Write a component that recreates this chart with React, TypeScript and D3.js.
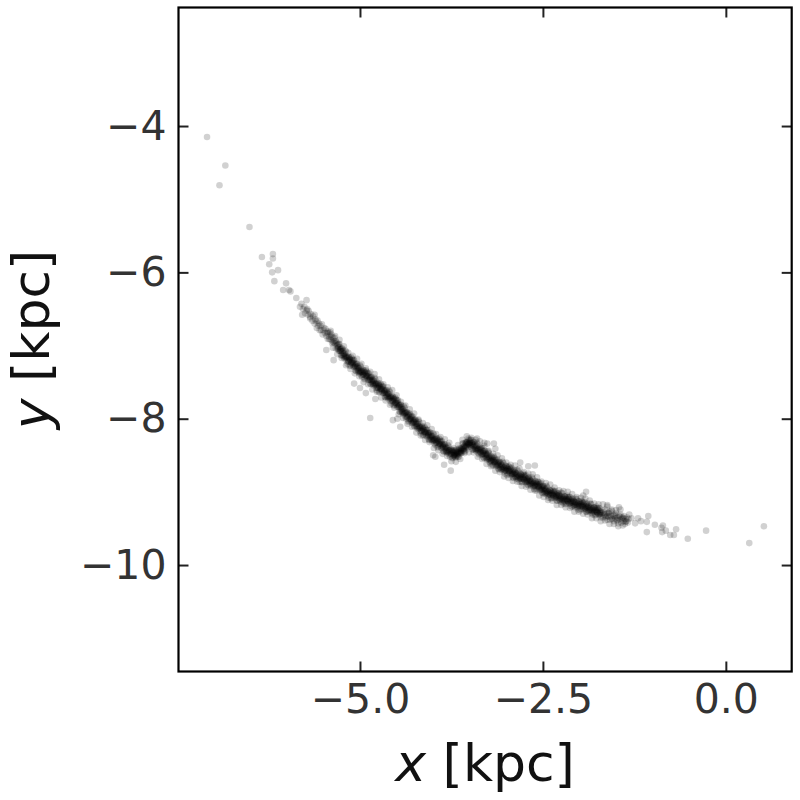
import React, { useRef, useEffect } from "react";
import * as d3 from "d3";

const width = 800;
const height = 800;
const plot = { left: 178.5, right: 791.7, top: 7.5, bottom: 671.5 };

const xDomain = [-7.48, 0.9];
const yDomain = [-11.455, -2.38];
const xTicks = [-5, -2.5, 0];
const yTicks = [-4, -6, -8, -10];

// star positions [x kpc, y kpc]
const leadingTail = [
  [-7.09, -4.15], [-6.84, -4.54], [-6.92, -4.81], [-6.51, -5.38], [-6.34, -5.79], [-6.19, -5.75],
  [-6.19, -5.81], [-6.24, -5.89], [-6.12, -5.97], [-6.2, -6.0], [-6.17, -6.12], [-6.01, -6.15],
  [-6.05, -6.24], [-5.97, -6.24], [-5.95, -6.26], [-5.87, -6.35], [-5.73, -6.38], [-5.82, -6.47],
  [-5.72, -6.5], [-5.79, -6.58], [-5.68, -6.61], [-5.62, -6.58]
];

const upperArm = [
  [-5.8, -6.43], [-5.78, -6.5], [-5.76, -6.47], [-5.75, -6.56], [-5.73, -6.52], [-5.71, -6.58],
  [-5.7, -6.53], [-5.68, -6.63], [-5.67, -6.57], [-5.65, -6.66], [-5.64, -6.6], [-5.62, -6.7],
  [-5.61, -6.64], [-5.6, -6.67],
  [-5.59, -6.76], [-5.58, -6.66], [-5.57, -6.73], [-5.56, -6.7], [-5.55, -6.79], [-5.54, -6.73],
  [-5.53, -6.79], [-5.52, -6.71], [-5.51, -6.85], [-5.5, -6.79], [-5.49, -6.76], [-5.48, -6.83],
  [-5.47, -6.77], [-5.46, -6.87], [-5.45, -6.83], [-5.44, -6.91], [-5.43, -6.83], [-5.42, -6.88],
  [-5.41, -6.82], [-5.4, -6.92], [-5.39, -6.88], [-5.38, -6.97], [-5.37, -6.89], [-5.36, -6.96],
  [-5.35, -6.89], [-5.34, -6.97], [-5.33, -7.04], [-5.32, -6.96], [-5.31, -7.04],
  [-5.44, -6.81], [-5.42, -6.91], [-5.39, -6.85], [-5.37, -6.95], [-5.35, -6.94], [-5.33, -6.94],
  [-5.31, -7.0]
];

const streamCore = [
  [-5.3, -6.99], [-5.3, -7.04], [-5.29, -7.07], [-5.29, -6.98], [-5.28, -6.98], [-5.28, -7.07], [-5.27, -7.07], [-5.27, -7.05], [-5.26, -7.05], [-5.26, -7.13],
  [-5.25, -7.14], [-5.25, -7.04], [-5.24, -7.04], [-5.24, -7.1], [-5.23, -7.13], [-5.23, -7.07], [-5.22, -7.11], [-5.22, -7.16], [-5.21, -7.18], [-5.21, -7.11],
  [-5.2, -7.07], [-5.2, -7.16], [-5.19, -7.17], [-5.19, -7.09], [-5.18, -7.16], [-5.18, -7.21], [-5.17, -7.25], [-5.17, -7.17], [-5.16, -7.15], [-5.16, -7.22],
  [-5.15, -7.22], [-5.15, -7.16], [-5.14, -7.18], [-5.14, -7.28], [-5.13, -7.27], [-5.13, -7.2], [-5.12, -7.16], [-5.12, -7.23], [-5.11, -7.23], [-5.11, -7.18],
  [-5.1, -7.21], [-5.1, -7.26], [-5.09, -7.29], [-5.09, -7.2], [-5.08, -7.2], [-5.08, -7.29], [-5.07, -7.28], [-5.07, -7.26], [-5.06, -7.26], [-5.06, -7.34],
  [-5.05, -7.35], [-5.05, -7.25], [-5.04, -7.25], [-5.04, -7.31], [-5.03, -7.34], [-5.03, -7.28], [-5.02, -7.31], [-5.02, -7.36], [-5.01, -7.38], [-5.01, -7.31],
  [-5.0, -7.27], [-5.0, -7.36], [-4.99, -7.37], [-4.99, -7.29], [-4.98, -7.36], [-4.98, -7.41], [-4.97, -7.43], [-4.97, -7.35], [-4.96, -7.33], [-4.96, -7.4],
  [-4.95, -7.4], [-4.95, -7.34], [-4.94, -7.36], [-4.94, -7.46], [-4.93, -7.45], [-4.93, -7.38], [-4.92, -7.34], [-4.92, -7.41], [-4.91, -7.41], [-4.91, -7.36],
  [-4.9, -7.39], [-4.9, -7.44], [-4.89, -7.47], [-4.89, -7.38], [-4.88, -7.38], [-4.88, -7.47], [-4.87, -7.46], [-4.87, -7.44], [-4.86, -7.44], [-4.86, -7.52],
  [-4.85, -7.53], [-4.85, -7.43], [-4.84, -7.43], [-4.84, -7.49], [-4.83, -7.52], [-4.83, -7.46], [-4.82, -7.48], [-4.82, -7.53], [-4.81, -7.55], [-4.81, -7.48],
  [-4.8, -7.44], [-4.8, -7.53], [-4.79, -7.54], [-4.79, -7.46], [-4.78, -7.53], [-4.78, -7.58], [-4.77, -7.61], [-4.77, -7.53], [-4.76, -7.51], [-4.76, -7.58],
  [-4.75, -7.58], [-4.75, -7.52], [-4.74, -7.54], [-4.74, -7.64], [-4.73, -7.63], [-4.73, -7.56], [-4.72, -7.52], [-4.72, -7.59], [-4.71, -7.59], [-4.71, -7.54],
  [-4.7, -7.57], [-4.7, -7.62], [-4.69, -7.65], [-4.69, -7.56], [-4.68, -7.56], [-4.68, -7.65], [-4.67, -7.64], [-4.67, -7.62], [-4.66, -7.62], [-4.66, -7.7],
  [-4.65, -7.71], [-4.65, -7.61], [-4.64, -7.61], [-4.64, -7.67], [-4.63, -7.7], [-4.63, -7.64], [-4.62, -7.66], [-4.62, -7.71], [-4.61, -7.73], [-4.61, -7.66],
  [-4.6, -7.62], [-4.6, -7.71], [-4.59, -7.72], [-4.59, -7.64], [-4.58, -7.71], [-4.58, -7.76], [-4.57, -7.79], [-4.57, -7.71], [-4.56, -7.69], [-4.56, -7.76],
  [-4.55, -7.76], [-4.55, -7.7], [-4.54, -7.72], [-4.54, -7.82], [-4.53, -7.81], [-4.53, -7.74], [-4.52, -7.71], [-4.52, -7.78], [-4.51, -7.78], [-4.51, -7.73],
  [-4.5, -7.76], [-4.5, -7.81], [-4.49, -7.84], [-4.49, -7.75], [-4.48, -7.75], [-4.48, -7.84], [-4.47, -7.83], [-4.47, -7.81], [-4.46, -7.82], [-4.46, -7.9],
  [-4.45, -7.91], [-4.45, -7.81], [-4.44, -7.81], [-4.44, -7.87], [-4.43, -7.9], [-4.43, -7.84], [-4.42, -7.87], [-4.42, -7.92], [-4.41, -7.94], [-4.41, -7.87],
  [-4.4, -7.83], [-4.4, -7.92], [-4.39, -7.93], [-4.39, -7.85], [-4.38, -7.92], [-4.38, -7.97], [-4.37, -8.0], [-4.37, -7.92], [-4.36, -7.91], [-4.36, -7.98],
  [-4.35, -7.98], [-4.35, -7.92], [-4.34, -7.94], [-4.34, -8.04], [-4.33, -8.03], [-4.33, -7.96], [-4.32, -7.93], [-4.32, -8.0], [-4.31, -8.0], [-4.31, -7.95],
  [-4.3, -7.98], [-4.3, -8.03], [-4.29, -8.06], [-4.29, -7.97], [-4.28, -7.97], [-4.28, -8.06], [-4.27, -8.05], [-4.27, -8.03], [-4.26, -8.02], [-4.26, -8.1],
  [-4.25, -8.11], [-4.25, -8.01], [-4.24, -8.01], [-4.24, -8.07], [-4.23, -8.1], [-4.23, -8.04], [-4.22, -8.07], [-4.22, -8.12], [-4.21, -8.14], [-4.21, -8.07],
  [-4.2, -8.03], [-4.2, -8.12], [-4.19, -8.13], [-4.19, -8.05], [-4.18, -8.12], [-4.18, -8.17], [-4.17, -8.2], [-4.17, -8.12], [-4.16, -8.1], [-4.16, -8.17],
  [-4.15, -8.17], [-4.15, -8.11], [-4.14, -8.13], [-4.14, -8.23], [-4.13, -8.22], [-4.13, -8.15], [-4.12, -8.11], [-4.12, -8.18], [-4.11, -8.18], [-4.11, -8.13],
  [-4.1, -8.16], [-4.1, -8.21], [-4.09, -8.24], [-4.09, -8.15], [-4.08, -8.15], [-4.08, -8.24], [-4.07, -8.22], [-4.07, -8.2], [-4.06, -8.2], [-4.06, -8.28],
  [-4.05, -8.29], [-4.05, -8.19], [-4.04, -8.19], [-4.04, -8.25], [-4.03, -8.28], [-4.03, -8.22], [-4.02, -8.24], [-4.02, -8.29], [-4.01, -8.31], [-4.01, -8.24],
  [-4.0, -8.2], [-4.0, -8.29], [-3.99, -8.3], [-3.99, -8.22], [-3.98, -8.29], [-3.98, -8.34], [-3.97, -8.36], [-3.97, -8.28], [-3.96, -8.26], [-3.96, -8.33],
  [-3.95, -8.33], [-3.95, -8.27], [-3.94, -8.29], [-3.94, -8.39], [-3.93, -8.38], [-3.93, -8.31], [-3.92, -8.27], [-3.92, -8.34], [-3.91, -8.34], [-3.91, -8.29],
  [-3.9, -8.32], [-3.9, -8.37], [-3.89, -8.4], [-3.89, -8.31], [-3.88, -8.31], [-3.88, -8.4], [-3.87, -8.38], [-3.87, -8.36], [-3.86, -8.36], [-3.86, -8.44],
  [-3.85, -8.45], [-3.85, -8.35], [-3.84, -8.35], [-3.84, -8.41], [-3.83, -8.44], [-3.83, -8.38], [-3.82, -8.4], [-3.82, -8.45], [-3.81, -8.47], [-3.81, -8.4],
  [-3.8, -8.36], [-3.8, -8.45], [-3.79, -8.46], [-3.79, -8.38], [-3.78, -8.44], [-3.78, -8.49], [-3.77, -8.52], [-3.77, -8.44], [-3.76, -8.42], [-3.76, -8.49]
];

const kinkPoints = [
  [-3.75, -8.48], [-3.75, -8.42], [-3.74, -8.44], [-3.74, -8.54], [-3.73, -8.53], [-3.73, -8.46], [-3.72, -8.43], [-3.72, -8.5], [-3.71, -8.49], [-3.71, -8.44],
  [-3.7, -8.47], [-3.7, -8.52], [-3.69, -8.53], [-3.69, -8.44], [-3.68, -8.42], [-3.68, -8.51], [-3.67, -8.48], [-3.67, -8.46], [-3.66, -8.44], [-3.66, -8.52],
  [-3.65, -8.52], [-3.65, -8.42], [-3.64, -8.4], [-3.64, -8.46], [-3.63, -8.47], [-3.63, -8.41], [-3.62, -8.42], [-3.62, -8.47], [-3.61, -8.47], [-3.61, -8.4],
  [-3.6, -8.34], [-3.6, -8.43], [-3.59, -8.42], [-3.59, -8.34], [-3.58, -8.39], [-3.58, -8.44], [-3.57, -8.45], [-3.57, -8.37], [-3.56, -8.33], [-3.56, -8.4],
  [-3.55, -8.38], [-3.55, -8.32], [-3.54, -8.32], [-3.54, -8.42], [-3.53, -8.39], [-3.53, -8.32], [-3.52, -8.27], [-3.52, -8.34], [-3.51, -8.34], [-3.51, -8.29],
  [-3.5, -8.31], [-3.5, -8.36], [-3.49, -8.38], [-3.49, -8.29], [-3.48, -8.29], [-3.48, -8.38], [-3.47, -8.36], [-3.47, -8.34], [-3.46, -8.34], [-3.46, -8.42],
  [-3.45, -8.42], [-3.45, -8.32], [-3.44, -8.32], [-3.44, -8.38], [-3.43, -8.41], [-3.43, -8.35], [-3.42, -8.38], [-3.42, -8.43], [-3.41, -8.44], [-3.41, -8.37],
  [-3.4, -8.33], [-3.4, -8.42], [-3.39, -8.43], [-3.39, -8.35], [-3.38, -8.42], [-3.38, -8.47], [-3.37, -8.49], [-3.37, -8.41], [-3.36, -8.39], [-3.36, -8.46],
  [-3.71, -8.5], [-3.69, -8.48], [-3.67, -8.5], [-3.72, -8.46], [-3.55, -8.35], [-3.53, -8.36], [-3.5, -8.33], [-3.58, -8.41],
  [-3.62, -8.44], [-3.65, -8.48]
];

const streamLower = [
  [-3.35, -8.41], [-3.35, -8.46], [-3.34, -8.49], [-3.34, -8.4], [-3.33, -8.4], [-3.33, -8.49], [-3.32, -8.47], [-3.32, -8.45], [-3.31, -8.45], [-3.31, -8.53],
  [-3.3, -8.54], [-3.3, -8.44], [-3.29, -8.44], [-3.29, -8.5], [-3.28, -8.53], [-3.28, -8.47], [-3.27, -8.49], [-3.27, -8.54], [-3.26, -8.56], [-3.26, -8.49],
  [-3.25, -8.45], [-3.25, -8.54], [-3.24, -8.55], [-3.24, -8.47], [-3.23, -8.54], [-3.23, -8.59], [-3.22, -8.61], [-3.22, -8.53], [-3.21, -8.51], [-3.21, -8.58],
  [-3.2, -8.58], [-3.2, -8.52], [-3.19, -8.54], [-3.19, -8.64], [-3.18, -8.63], [-3.18, -8.56], [-3.17, -8.52], [-3.17, -8.59], [-3.16, -8.59], [-3.16, -8.54],
  [-3.15, -8.57], [-3.15, -8.62], [-3.14, -8.65], [-3.14, -8.56], [-3.13, -8.55], [-3.13, -8.64], [-3.12, -8.63], [-3.12, -8.61], [-3.11, -8.6], [-3.11, -8.68],
  [-3.1, -8.69], [-3.1, -8.59], [-3.09, -8.59], [-3.09, -8.65], [-3.08, -8.67], [-3.08, -8.61], [-3.07, -8.64], [-3.07, -8.69], [-3.06, -8.7], [-3.06, -8.63],
  [-3.05, -8.59], [-3.05, -8.68], [-3.04, -8.69], [-3.04, -8.61], [-3.03, -8.67], [-3.03, -8.72], [-3.02, -8.75], [-3.02, -8.67], [-3.01, -8.64], [-3.01, -8.71],
  [-3.0, -8.71], [-3.0, -8.65], [-2.99, -8.67], [-2.99, -8.77], [-2.98, -8.75], [-2.98, -8.68], [-2.97, -8.65], [-2.97, -8.72], [-2.96, -8.71], [-2.96, -8.66],
  [-2.95, -8.69], [-2.95, -8.74], [-2.94, -8.77], [-2.94, -8.68], [-2.93, -8.67], [-2.93, -8.76], [-2.92, -8.75], [-2.92, -8.73], [-2.91, -8.72], [-2.91, -8.8],
  [-2.9, -8.81], [-2.9, -8.71], [-2.89, -8.7], [-2.89, -8.76], [-2.88, -8.79], [-2.88, -8.73], [-2.87, -8.75], [-2.87, -8.8], [-2.86, -8.82], [-2.86, -8.75],
  [-2.85, -8.7], [-2.85, -8.79], [-2.84, -8.8], [-2.84, -8.72], [-2.83, -8.78], [-2.83, -8.83], [-2.82, -8.86], [-2.82, -8.78], [-2.81, -8.75], [-2.81, -8.82],
  [-2.8, -8.82], [-2.8, -8.76], [-2.79, -8.77], [-2.79, -8.87], [-2.78, -8.86], [-2.78, -8.79], [-2.77, -8.75], [-2.77, -8.82], [-2.76, -8.82], [-2.76, -8.77],
  [-2.75, -8.79], [-2.75, -8.84], [-2.74, -8.87], [-2.74, -8.78], [-2.73, -8.77], [-2.73, -8.86], [-2.72, -8.85], [-2.72, -8.83], [-2.71, -8.82], [-2.71, -8.9],
  [-2.7, -8.91], [-2.7, -8.81], [-2.69, -8.8], [-2.69, -8.86], [-2.68, -8.89], [-2.68, -8.83], [-2.67, -8.85], [-2.67, -8.9], [-2.66, -8.92], [-2.66, -8.85],
  [-2.65, -8.8], [-2.65, -8.89], [-2.64, -8.9], [-2.64, -8.82], [-2.63, -8.88], [-2.63, -8.93], [-2.62, -8.96], [-2.62, -8.88], [-2.61, -8.85], [-2.61, -8.92],
  [-2.6, -8.92], [-2.6, -8.86], [-2.59, -8.88], [-2.59, -8.98], [-2.58, -8.96], [-2.58, -8.89], [-2.57, -8.86], [-2.57, -8.93], [-2.56, -8.92], [-2.56, -8.87],
  [-2.55, -8.9], [-2.55, -8.95], [-2.54, -8.98], [-2.54, -8.89], [-2.53, -8.88], [-2.53, -8.97], [-2.52, -8.96], [-2.52, -8.94], [-2.51, -8.93], [-2.51, -9.01],
  [-2.5, -9.02], [-2.5, -8.92], [-2.49, -8.92], [-2.49, -8.98], [-2.48, -9.0], [-2.48, -8.94], [-2.47, -8.97], [-2.47, -9.02], [-2.46, -9.03], [-2.46, -8.96],
  [-2.45, -8.92], [-2.45, -9.01], [-2.44, -9.02], [-2.44, -8.94], [-2.43, -9.0], [-2.43, -9.05], [-2.42, -9.08], [-2.42, -9.0], [-2.41, -8.97], [-2.41, -9.04],
  [-2.4, -9.04], [-2.4, -8.98], [-2.39, -8.99], [-2.39, -9.09], [-2.38, -9.08], [-2.38, -9.01], [-2.37, -8.97], [-2.37, -9.04], [-2.36, -9.04], [-2.36, -8.99],
  [-2.35, -9.01], [-2.35, -9.06], [-2.34, -9.09], [-2.34, -9.0], [-2.33, -8.99], [-2.33, -9.08], [-2.32, -9.06], [-2.32, -9.04], [-2.31, -9.04], [-2.31, -9.12],
  [-2.3, -9.12], [-2.3, -9.02], [-2.29, -9.02], [-2.29, -9.08], [-2.28, -9.1], [-2.28, -9.04], [-2.27, -9.06], [-2.27, -9.11], [-2.26, -9.13], [-2.26, -9.06],
  [-2.25, -9.01], [-2.25, -9.1], [-2.24, -9.1], [-2.24, -9.02], [-2.23, -9.09], [-2.23, -9.14], [-2.22, -9.16], [-2.22, -9.08], [-2.21, -9.06], [-2.21, -9.13],
  [-2.2, -9.12], [-2.2, -9.06], [-2.19, -9.07], [-2.19, -9.17], [-2.18, -9.16], [-2.18, -9.09], [-2.17, -9.05], [-2.17, -9.12], [-2.16, -9.12], [-2.16, -9.07],
  [-2.15, -9.09], [-2.15, -9.14], [-2.14, -9.16], [-2.14, -9.07], [-2.13, -9.07], [-2.13, -9.16], [-2.12, -9.14], [-2.12, -9.12], [-2.11, -9.12], [-2.11, -9.2],
  [-2.1, -9.2], [-2.1, -9.1], [-2.09, -9.09], [-2.09, -9.15], [-2.08, -9.18], [-2.08, -9.12], [-2.07, -9.14], [-2.07, -9.19], [-2.06, -9.21], [-2.06, -9.14],
  [-2.05, -9.09], [-2.05, -9.18], [-2.04, -9.18], [-2.04, -9.1], [-2.03, -9.16], [-2.03, -9.21], [-2.02, -9.24], [-2.02, -9.16], [-2.01, -9.13], [-2.01, -9.2],
  [-2.0, -9.19], [-2.0, -9.13], [-1.99, -9.15], [-1.99, -9.25], [-1.98, -9.23], [-1.98, -9.16], [-1.97, -9.13], [-1.97, -9.2], [-1.96, -9.19], [-1.96, -9.14],
  [-1.95, -9.16], [-1.95, -9.21], [-1.94, -9.24], [-1.94, -9.15], [-1.93, -9.14], [-1.93, -9.23], [-1.92, -9.22], [-1.92, -9.2], [-1.91, -9.19], [-1.91, -9.27]
];

// stars lying right on the track, where the stream is densest
const trackCentre = [
  [-5.3, -7.02], [-5.28, -7.02], [-5.26, -7.08], [-5.24, -7.08], [-5.22, -7.14], [-5.2, -7.14], [-5.18, -7.15], [-5.16, -7.2], [-5.14, -7.19], [-5.12, -7.24],
  [-5.1, -7.24], [-5.08, -7.24], [-5.06, -7.29], [-5.04, -7.29], [-5.02, -7.34], [-5.0, -7.34], [-4.98, -7.35], [-4.96, -7.38], [-4.94, -7.37], [-4.92, -7.42],
  [-4.9, -7.42], [-4.88, -7.42], [-4.86, -7.47], [-4.84, -7.47], [-4.82, -7.51], [-4.8, -7.51], [-4.78, -7.52], [-4.76, -7.56], [-4.74, -7.55], [-4.72, -7.6],
  [-4.7, -7.6], [-4.68, -7.6], [-4.66, -7.65], [-4.64, -7.65], [-4.62, -7.69], [-4.6, -7.69], [-4.58, -7.7], [-4.56, -7.74], [-4.54, -7.73], [-4.52, -7.79],
  [-4.5, -7.79], [-4.48, -7.79], [-4.46, -7.85], [-4.44, -7.85], [-4.42, -7.9], [-4.4, -7.9], [-4.38, -7.91], [-4.36, -7.96], [-4.34, -7.95], [-4.32, -8.01],
  [-4.3, -8.01], [-4.28, -8.01], [-4.26, -8.05], [-4.24, -8.05], [-4.22, -8.1], [-4.2, -8.1], [-4.18, -8.11], [-4.16, -8.15], [-4.14, -8.14], [-4.12, -8.19],
  [-4.1, -8.19], [-4.08, -8.19], [-4.06, -8.23], [-4.04, -8.23], [-4.02, -8.27], [-4.0, -8.27], [-3.98, -8.28], [-3.96, -8.31], [-3.94, -8.3], [-3.92, -8.35],
  [-3.9, -8.35], [-3.88, -8.35], [-3.86, -8.39], [-3.84, -8.39], [-3.82, -8.43], [-3.8, -8.43], [-3.78, -8.43], [-3.76, -8.47], [-3.74, -8.45], [-3.72, -8.51],
  [-3.7, -8.5], [-3.68, -8.46], [-3.66, -8.47], [-3.64, -8.44], [-3.62, -8.45], [-3.6, -8.41], [-3.58, -8.38], [-3.56, -8.38], [-3.54, -8.33], [-3.52, -8.35],
  [-3.5, -8.34], [-3.48, -8.33], [-3.46, -8.37], [-3.44, -8.36], [-3.42, -8.41], [-3.4, -8.4], [-3.38, -8.41], [-3.36, -8.44], [-3.34, -8.43], [-3.32, -8.48],
  [-3.3, -8.48], [-3.28, -8.48], [-3.26, -8.52], [-3.24, -8.52], [-3.22, -8.56], [-3.2, -8.56], [-3.18, -8.57], [-3.16, -8.6], [-3.14, -8.59], [-3.12, -8.64],
  [-3.1, -8.63], [-3.08, -8.62], [-3.06, -8.66], [-3.04, -8.66], [-3.02, -8.7], [-3.0, -8.69], [-2.98, -8.69], [-2.96, -8.72], [-2.94, -8.71], [-2.92, -8.76],
  [-2.9, -8.75], [-2.88, -8.74], [-2.86, -8.78], [-2.84, -8.77], [-2.82, -8.81], [-2.8, -8.8], [-2.78, -8.8], [-2.76, -8.83], [-2.74, -8.81], [-2.72, -8.86],
  [-2.7, -8.85], [-2.68, -8.84], [-2.66, -8.88], [-2.64, -8.87], [-2.62, -8.91], [-2.6, -8.9], [-2.58, -8.9], [-2.56, -8.93], [-2.54, -8.92], [-2.52, -8.97],
  [-2.5, -8.96], [-2.48, -8.95], [-2.46, -8.99], [-2.44, -8.99], [-2.42, -9.03], [-2.4, -9.02], [-2.38, -9.02], [-2.36, -9.05], [-2.34, -9.03], [-2.32, -9.07],
  [-2.3, -9.06], [-2.28, -9.05], [-2.26, -9.09], [-2.24, -9.07], [-2.22, -9.11], [-2.2, -9.1], [-2.18, -9.1], [-2.16, -9.13], [-2.14, -9.1], [-2.12, -9.15],
  [-2.1, -9.14], [-2.08, -9.13], [-2.06, -9.17], [-2.04, -9.15], [-2.02, -9.19], [-2.0, -9.17], [-1.98, -9.17], [-1.96, -9.2], [-1.94, -9.18], [-1.92, -9.23],
  [-1.9, -9.21], [-1.88, -9.2], [-1.86, -9.24], [-1.84, -9.22], [-1.82, -9.26], [-1.8, -9.25], [-1.78, -9.25], [-1.76, -9.28], [-1.74, -9.25], [-1.72, -9.3],
  [-1.7, -9.29]
];

// looser stars on both flanks of the stream
const streamHalo = [
  [-5.4, -6.8], [-5.37, -7.03], [-5.34, -6.87], [-5.31, -7.12], [-5.28, -6.92], [-5.25, -7.17], [-5.22, -7.01], [-5.19, -7.27],
  [-5.16, -7.1], [-5.13, -7.32], [-5.1, -7.14], [-5.07, -7.38], [-5.04, -7.18], [-5.01, -7.42], [-4.98, -7.25], [-4.95, -7.5],
  [-4.92, -7.31], [-4.89, -7.53], [-4.86, -7.36], [-4.83, -7.6], [-4.8, -7.39], [-4.77, -7.63], [-4.74, -7.46], [-4.71, -7.71],
  [-4.68, -7.53], [-4.65, -7.75], [-4.62, -7.57], [-4.59, -7.81], [-4.56, -7.61], [-4.53, -7.85], [-4.5, -7.68], [-4.47, -7.94],
  [-4.44, -7.77], [-4.41, -7.99], [-4.38, -7.82], [-4.35, -8.07], [-4.32, -7.87], [-4.29, -8.11], [-4.26, -7.93], [-4.23, -8.19],
  [-4.2, -8.01], [-4.17, -8.23], [-4.14, -8.06], [-4.11, -8.29], [-4.08, -8.09], [-4.05, -8.32], [-4.02, -8.14], [-3.99, -8.4],
  [-3.96, -8.21], [-3.93, -8.43], [-3.9, -8.25], [-3.87, -8.48], [-3.84, -8.28], [-3.81, -8.51], [-3.78, -8.33], [-3.75, -8.58],
  [-3.72, -8.4], [-3.69, -8.59], [-3.66, -8.36], [-3.63, -8.55], [-3.6, -8.29], [-3.57, -8.47], [-3.54, -8.24], [-3.51, -8.46],
  [-3.48, -8.26], [-3.45, -8.46], [-3.42, -8.29], [-3.39, -8.52], [-3.36, -8.31], [-3.33, -8.55], [-3.3, -8.37], [-3.27, -8.62],
  [-3.24, -8.44], [-3.21, -8.65], [-3.18, -8.48], [-3.15, -8.71], [-3.12, -8.5], [-3.09, -8.73], [-3.06, -8.54], [-3.03, -8.79],
  [-3.0, -8.6], [-2.97, -8.81], [-2.94, -8.63], [-2.91, -8.85], [-2.88, -8.64], [-2.85, -8.86], [-2.82, -8.68], [-2.79, -8.92],
  [-2.76, -8.73], [-2.73, -8.93], [-2.7, -8.75], [-2.67, -8.97], [-2.64, -8.76], [-2.61, -8.98], [-2.58, -8.8], [-2.55, -9.05],
  [-2.52, -8.86], [-2.49, -9.07], [-2.46, -8.88], [-2.43, -9.11], [-2.4, -8.9], [-2.37, -9.12], [-2.34, -8.94], [-2.31, -9.18],
  [-2.28, -8.98], [-2.25, -9.18], [-2.22, -8.99], [-2.19, -9.21], [-2.16, -9.0], [-2.13, -9.22], [-2.1, -9.03], [-2.07, -9.27],
  [-2.04, -9.07], [-2.01, -9.27], [-1.98, -9.08], [-1.95, -9.3], [-1.92, -9.09], [-1.89, -9.31], [-1.86, -9.12], [-1.83, -9.36],
  [-1.8, -9.16], [-1.77, -9.36], [-1.74, -9.17], [-1.71, -9.4], [-1.68, -9.17], [-1.65, -9.39], [-1.62, -9.2], [-1.59, -9.44],
  [-1.56, -9.24], [-1.53, -9.44], [-1.5, -9.25], [-1.47, -9.47], [-1.44, -9.24], [-1.41, -9.46]
];

const streamFade = [
  [-1.9, -9.27], [-1.9, -9.17], [-1.89, -9.16], [-1.89, -9.22], [-1.88, -9.25], [-1.88, -9.19], [-1.87, -9.21], [-1.87, -9.26], [-1.86, -9.28], [-1.86, -9.21],
  [-1.85, -9.16], [-1.85, -9.25], [-1.84, -9.25], [-1.84, -9.17], [-1.83, -9.24], [-1.83, -9.29], [-1.82, -9.31], [-1.82, -9.23], [-1.81, -9.21], [-1.81, -9.28],
  [-1.8, -9.27], [-1.8, -9.21], [-1.79, -9.22], [-1.79, -9.32], [-1.78, -9.31], [-1.78, -9.24], [-1.77, -9.2], [-1.77, -9.27], [-1.76, -9.27], [-1.76, -9.22],
  [-1.75, -9.24], [-1.75, -9.29], [-1.74, -9.31], [-1.74, -9.22], [-1.73, -9.22], [-1.73, -9.31], [-1.72, -9.29], [-1.72, -9.27], [-1.71, -9.27], [-1.71, -9.35],
  [-1.7, -9.32], [-1.69, -9.25], [-1.68, -9.35], [-1.67, -9.28], [-1.66, -9.31], [-1.65, -9.24], [-1.64, -9.35], [-1.63, -9.3], [-1.62, -9.38], [-1.61, -9.29],
  [-1.6, -9.34], [-1.59, -9.27], [-1.58, -9.38], [-1.57, -9.33], [-1.56, -9.26], [-1.55, -9.37], [-1.54, -9.32], [-1.53, -9.4], [-1.52, -9.31], [-1.51, -9.36],
  [-1.5, -9.29], [-1.49, -9.39], [-1.48, -9.35], [-1.47, -9.43], [-1.46, -9.33], [-1.45, -9.38], [-1.44, -9.31], [-1.43, -9.42], [-1.42, -9.37], [-1.41, -9.35],
  [-1.4, -9.4], [-1.39, -9.33], [-1.38, -9.44], [-1.37, -9.37], [-1.36, -9.4], [-1.35, -9.35],
  [-1.6, -9.29], [-1.56, -9.36], [-1.52, -9.33], [-1.48, -9.38], [-1.44, -9.34], [-1.4, -9.36], [-1.37, -9.41], [-1.34, -9.42],
  [-1.33, -9.37], [-1.65, -9.33], [-1.62, -9.33]
];

const trailingTail = [
  [-1.29, -9.36], [-1.24, -9.43], [-1.2, -9.36], [-1.16, -9.4], [-1.06, -9.33], [-1.08, -9.55], [-1.08, -9.41],
  [-0.97, -9.45], [-0.88, -9.49], [-0.86, -9.46], [-0.87, -9.55], [-0.82, -9.53], [-0.68, -9.51], [-0.76, -9.59],
  [-0.71, -9.59], [-0.52, -9.64], [-0.27, -9.53], [0.32, -9.7], [0.52, -9.47]
];

const strayStars = [
  [-5.46, -7.06], [-5.36, -7.2], [-5.08, -7.52], [-5.0, -7.58], [-4.92, -7.65], [-4.79, -7.73], [-4.86, -7.99],
  [-4.55, -8.02], [-4.49, -8.0], [-4.45, -8.11], [-3.97, -8.52], [-4.0, -8.5], [-3.85, -8.63], [-3.76, -8.71],
  [-3.4, -8.27], [-3.3, -8.33], [-3.26, -8.34], [-3.17, -8.34], [-3.15, -8.41], [-2.81, -8.6], [-2.7, -8.65],
  [-2.61, -8.64], [-1.91, -9.0], [-1.95, -9.05], [-1.62, -9.18], [-1.46, -9.21], [-1.32, -9.31]
];

const font = "'DejaVu Sans', sans-serif";

export default function App() {
  const ref = useRef<SVGSVGElement | null>(null);

  useEffect(() => {
    const svg = d3.select(ref.current);
    svg.selectAll("*").remove();

    const x = d3.scaleLinear().domain(xDomain).range([plot.left, plot.right]);
    const y = d3.scaleLinear().domain(yDomain).range([plot.bottom, plot.top]);

    const stars = [
      ...leadingTail, ...upperArm, ...streamCore, ...kinkPoints, ...streamLower,
      ...trackCentre, ...streamHalo, ...streamFade, ...trailingTail, ...strayStars
    ];

    svg.append("rect")
      .attr("width", width)
      .attr("height", height)
      .attr("fill", "#fff");

    // stars
    svg.append("g")
      .selectAll("circle")
      .data(stars)
      .join("circle")
      .attr("cx", (d) => x(d[0]))
      .attr("cy", (d) => y(d[1]))
      .attr("r", 3.3)
      .attr("fill", "#000")
      .attr("fill-opacity", 0.18);

    // axes, ticks pointing inward on all four sides
    const styleAxis = (g: any) => {
      g.select(".domain").remove();
      g.selectAll(".tick line").attr("stroke", "#222").attr("stroke-width", 2);
      g.selectAll(".tick text")
        .attr("fill", "#333")
        .attr("font-size", 41)
        .attr("font-family", font);
    };

    svg.append("g")
      .attr("transform", `translate(0,${plot.bottom})`)
      .call(d3.axisBottom(x).tickValues(xTicks).tickFormat(d3.format(".1f"))
        .tickSizeInner(-10).tickSizeOuter(0).tickPadding(12.5))
      .call(styleAxis);

    svg.append("g")
      .attr("transform", `translate(0,${plot.top})`)
      .call(d3.axisTop(x).tickValues(xTicks).tickFormat(() => "")
        .tickSizeInner(-10).tickSizeOuter(0))
      .call(styleAxis);

    svg.append("g")
      .attr("transform", `translate(${plot.left},0)`)
      .call(d3.axisLeft(y).tickValues(yTicks).tickFormat(d3.format("d"))
        .tickSizeInner(-10).tickSizeOuter(0).tickPadding(12))
      .call(styleAxis);

    svg.append("g")
      .attr("transform", `translate(${plot.right},0)`)
      .call(d3.axisRight(y).tickValues(yTicks).tickFormat(() => "")
        .tickSizeInner(-10).tickSizeOuter(0))
      .call(styleAxis);

    // frame
    svg.append("rect")
      .attr("x", plot.left)
      .attr("y", plot.top)
      .attr("width", plot.right - plot.left)
      .attr("height", plot.bottom - plot.top)
      .attr("fill", "none")
      .attr("stroke", "#000")
      .attr("stroke-width", 2.2);

    // axis labels
    const xLabel = svg.append("text")
      .attr("x", (plot.left + plot.right) / 2)
      .attr("y", 781)
      .attr("text-anchor", "middle")
      .attr("font-family", font)
      .attr("font-size", 52)
      .attr("fill", "#111");
    xLabel.append("tspan").attr("font-style", "italic").text("x");
    xLabel.append("tspan").text(" [kpc]");

    const yLabel = svg.append("text")
      .attr("transform", `translate(49,${(plot.top + plot.bottom) / 2}) rotate(-90)`)
      .attr("text-anchor", "middle")
      .attr("font-family", font)
      .attr("font-size", 52)
      .attr("fill", "#111");
    yLabel.append("tspan").attr("font-style", "italic").text("y");
    yLabel.append("tspan").text(" [kpc]");
  }, []);

  return (
    <svg
      ref={ref}
      width={width}
      height={height}
      style={{ position: "absolute", left: 0, top: 0, display: "block" }}
    />
  );
}
